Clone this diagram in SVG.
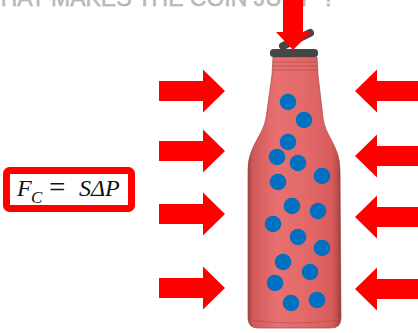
<svg xmlns="http://www.w3.org/2000/svg" width="418" height="333" viewBox="0 0 418 333">
  <style>
    .force { fill: #ff0000; }
    .bubble { fill: #0070c0; }
    .title { font-family: "Liberation Sans", Arial, sans-serif; font-size: 23px; fill: #bcbcbc; stroke: #a8a8a8; stroke-width: 0.4; }
    .math { font-family: "Liberation Serif", "Times New Roman", serif; font-size: 23px; fill: #111; }
  </style>
  <defs>
    <!-- block arrow pointing right, origin at shaft tail centre -->
    <path id="push" d="M0,-10 H44 V-21.5 L66,0 L44,21.5 V10 H0 Z"/>
    <linearGradient id="glass" x1="248" y1="0" x2="341" y2="0" gradientUnits="userSpaceOnUse">
      <stop offset="0" stop-color="#9e4040"/>
      <stop offset="0.05" stop-color="#d25858"/>
      <stop offset="0.3" stop-color="#e87070"/>
      <stop offset="0.6" stop-color="#e46a6a"/>
      <stop offset="0.9" stop-color="#d85c5c"/>
      <stop offset="0.97" stop-color="#b84a4a"/>
      <stop offset="1" stop-color="#7e3636"/>
    </linearGradient>
  </defs>

  <rect width="418" height="333" fill="#ffffff"/>

  <!-- heading, cropped at the top edge -->
  <text class="title" x="-21" y="6">WHAT MAKES THE COIN JUMP ?</text>

  <!-- bottle -->
  <g id="bottle">
    <path d="M273,57 L317,57 L318,75 L323,118 C325,136 340,146 340,170 L341,318 Q341,328 331,328 L258,328 Q248,328 248,318 L248,170 C248,146 263,136 266,118 L272,75 Z" fill="url(#glass)" stroke="#a04a4a" stroke-width="1" stroke-opacity="0.7"/>
    <!-- neck threads -->
    <g stroke="#b04c4c" stroke-width="1.2" opacity="0.7">
      <line x1="273" y1="62" x2="317" y2="62"/>
      <line x1="273" y1="66" x2="317" y2="66"/>
      <line x1="273" y1="70" x2="318" y2="70"/>
    </g>
    <!-- base rim -->
    <path d="M250,320 Q294,326 339,320" fill="none" stroke="#b04c4c" stroke-width="1.2" opacity="0.6"/>
  </g>

  <!-- flip-top cap -->
  <g id="cap" fill="#464646" stroke="#464646">
    <line x1="283" y1="46" x2="310" y2="33" stroke-width="8" stroke-linecap="round"/>
    <rect x="270" y="49" width="48" height="8" rx="3.5" stroke="none"/>
  </g>

  <!-- gas bubbles -->
  <g id="bubbles">
    <circle class="bubble" cx="288" cy="102" r="8.3"/>
    <circle class="bubble" cx="304" cy="120" r="8.3"/>
    <circle class="bubble" cx="288" cy="142" r="8.3"/>
    <circle class="bubble" cx="277" cy="157" r="8.3"/>
    <circle class="bubble" cx="298" cy="163" r="8.3"/>
    <circle class="bubble" cx="322" cy="176" r="8.3"/>
    <circle class="bubble" cx="278" cy="182" r="8.3"/>
    <circle class="bubble" cx="292" cy="206" r="8.3"/>
    <circle class="bubble" cx="318" cy="211" r="8.3"/>
    <circle class="bubble" cx="273" cy="224" r="8.3"/>
    <circle class="bubble" cx="298" cy="237" r="8.3"/>
    <circle class="bubble" cx="322" cy="248" r="8.3"/>
    <circle class="bubble" cx="283" cy="262" r="8.3"/>
    <circle class="bubble" cx="310" cy="272" r="8.3"/>
    <circle class="bubble" cx="275" cy="283" r="8.3"/>
    <circle class="bubble" cx="291" cy="303" r="8.3"/>
    <circle class="bubble" cx="317" cy="300" r="8.3"/>
  </g>

  <!-- pressure arrows -->
  <g id="connectors">
    <use href="#push" class="force" transform="translate(159,91)"/>
    <use href="#push" class="force" transform="translate(159,151)"/>
    <use href="#push" class="force" transform="translate(159,214)"/>
    <use href="#push" class="force" transform="translate(159,288)"/>
    <use href="#push" class="force" transform="translate(421,91) scale(-1,1)"/>
    <use href="#push" class="force" transform="translate(421,156) scale(-1,1)"/>
    <use href="#push" class="force" transform="translate(421,217) scale(-1,1)"/>
    <use href="#push" class="force" transform="translate(421,289) scale(-1,1)"/>
    <!-- downward arrow onto the cap -->
    <path class="force" d="M283,-2 H303 V32 H311 L293,50 L276,32 H283 Z"/>
  </g>

  <!-- force formula -->
  <g id="formula">
    <rect x="6.5" y="170.5" width="125" height="38" rx="3" fill="#ffffff" stroke="#ff0000" stroke-width="7"/>
    <text class="math"><tspan x="17" y="196" font-style="italic" font-size="24">F</tspan><tspan x="31" y="203" font-size="17" font-style="italic">C</tspan><tspan x="49" y="197" font-size="29">=</tspan><tspan x="79" y="196" font-style="italic" font-size="24">SΔP</tspan></text>
  </g>
</svg>
